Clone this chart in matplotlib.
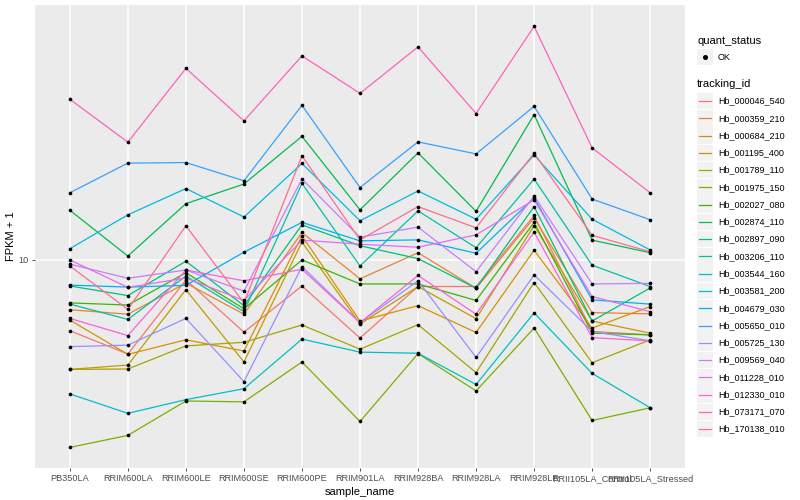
import numpy as np
import matplotlib
matplotlib.use('Agg')
import matplotlib.pyplot as plt
from matplotlib.patches import Rectangle
from matplotlib.lines import Line2D
from matplotlib.ticker import NullLocator

plt.rcParams['font.family'] = ['Liberation Sans', 'DejaVu Sans']

samples = ['PB350LA', 'RRIM600LA', 'RRIM600LE', 'RRIM600SE', 'RRIM600PE', 'RRIM901LA',
           'RRIM928BA', 'RRIM928LA', 'RRIM928LE', 'RRII105LA_Control', 'RRII105LA_Stressed']

tracking_ids = ['Hb_000046_540', 'Hb_000359_210', 'Hb_000684_210', 'Hb_001195_400',
                'Hb_001789_110', 'Hb_001975_150', 'Hb_002027_080', 'Hb_002874_110',
                'Hb_002897_090', 'Hb_003206_110', 'Hb_003544_160', 'Hb_003581_200',
                'Hb_004679_030', 'Hb_005650_010', 'Hb_005725_130', 'Hb_009569_040',
                'Hb_011228_010', 'Hb_012330_010', 'Hb_073171_070', 'Hb_170138_010']

# FPKM + 1 per sample
hb_000046_540 = [7.62, 6.97, 9.26, 7.58, 9.05, 7.41, 9.03, 9.03, 11.86, 7.60, 7.50]
hb_000359_210 = [8.26, 8.12, 9.15, 8.12, 11.11, 9.30, 10.28, 8.97, 11.75, 8.17, 8.13]
hb_000684_210 = [7.94, 6.96, 7.36, 7.05, 10.97, 7.91, 8.39, 7.57, 10.38, 7.70, 8.36]
hb_001195_400 = [6.57, 6.68, 8.92, 6.76, 10.71, 7.82, 9.03, 7.98, 11.41, 7.91, 7.55]
hb_001789_110 = [6.57, 6.58, 7.19, 7.29, 7.79, 7.10, 7.80, 6.49, 9.17, 6.74, 7.36]
hb_001975_150 = [4.87, 5.10, 5.82, 5.80, 6.76, 5.38, 6.98, 6.05, 7.70, 5.40, 5.67]
hb_002027_080 = [8.48, 8.41, 9.52, 8.29, 10.00, 9.12, 9.12, 8.56, 11.55, 7.55, 7.50]
hb_002874_110 = [12.10, 10.15, 12.41, 13.38, 16.07, 12.12, 15.08, 12.05, 17.46, 10.79, 10.28]
hb_002897_090 = [9.05, 8.72, 9.95, 8.39, 11.44, 10.56, 10.05, 8.97, 12.27, 7.91, 8.98]
hb_003206_110 = [8.44, 7.96, 9.40, 8.20, 13.41, 9.77, 12.07, 10.48, 13.64, 9.80, 9.03]
hb_003544_160 = [5.98, 5.55, 5.85, 6.10, 7.38, 7.02, 6.99, 6.20, 8.16, 6.47, 5.67]
hb_003581_200 = [10.44, 11.89, 13.15, 11.79, 14.48, 11.62, 13.03, 11.69, 14.96, 11.69, 10.39]
hb_004679_030 = [9.08, 9.01, 9.07, 10.30, 11.55, 10.76, 10.80, 10.26, 12.69, 8.58, 8.44]
hb_005650_010 = [12.94, 14.50, 14.53, 13.55, 18.10, 13.20, 15.73, 15.02, 18.03, 12.63, 11.67]
hb_005725_130 = [7.17, 7.21, 7.99, 6.27, 9.75, 7.86, 9.23, 6.88, 9.44, 7.60, 7.33]
hb_009569_040 = [9.84, 9.32, 9.62, 8.87, 13.64, 10.91, 11.34, 9.56, 12.78, 9.12, 9.14]
hb_011228_010 = [10.00, 9.00, 9.33, 8.56, 10.79, 10.62, 10.50, 11.01, 12.59, 8.69, 8.20]
hb_012330_010 = [7.99, 7.48, 9.62, 9.23, 9.65, 7.86, 9.42, 8.12, 11.13, 7.42, 7.33]
hb_073171_070 = [18.53, 15.71, 20.86, 17.05, 21.88, 18.95, 22.65, 17.54, 24.50, 15.37, 12.94]
hb_170138_010 = [9.77, 8.27, 11.40, 8.48, 14.91, 10.80, 12.27, 11.31, 15.06, 10.99, 10.32]

fpkm = [hb_000046_540, hb_000359_210, hb_000684_210, hb_001195_400, hb_001789_110,
        hb_001975_150, hb_002027_080, hb_002874_110, hb_002897_090, hb_003206_110,
        hb_003544_160, hb_003581_200, hb_004679_030, hb_005650_010, hb_005725_130,
        hb_009569_040, hb_011228_010, hb_012330_010, hb_073171_070, hb_170138_010]

# ggplot default hue palette for 20 levels
colours = ['#F8766D', '#EA8331', '#D89000', '#C09B00', '#A3A500', '#7CAE00', '#39B600',
           '#00BB4E', '#00BF7D', '#00C1A3', '#00BFC4', '#00BAE0', '#00B0F6', '#35A2FF',
           '#9590FF', '#C77CFF', '#E76BF3', '#FA62DB', '#FF62BC', '#FF6C91']

W, H = 800, 500
fig = plt.figure(figsize=(8, 5), dpi=100)
ax = fig.add_axes([35 / W, 32 / H, 650 / W, 463 / H])
ax.set_facecolor('#EBEBEB')

x = np.arange(len(samples))
for vals, col in zip(fpkm, colours):
    ax.plot(x, vals, color=col, lw=0.9, zorder=2)
for vals in fpkm:
    ax.scatter(x, vals, s=7, color='black', zorder=3, linewidths=0)

ax.set_yscale('log')
ax.set_ylim(4.5, 26.6)
ax.set_xlim(-0.6, 10.6)
ax.set_yticks([10])
ax.set_yticklabels(['10'])
ax.yaxis.set_minor_locator(NullLocator())
ax.set_xticks(x)
ax.set_xticklabels(samples)
ax.grid(color='white', lw=1.1)
ax.set_axisbelow(True)
for sp in ax.spines.values():
    sp.set_visible(False)
ax.tick_params(length=2.5, width=0.6, color='#333333', labelsize=6.6, labelcolor='#4D4D4D', pad=2)
ax.set_xlabel('sample_name', fontsize=8, labelpad=3)
ax.set_ylabel('FPKM + 1', fontsize=8, labelpad=1.5)

# legends, drawn by hand in pixel coordinates
def fx(px):
    return px / W

def fy(py):
    return 1 - py / H

fig.text(fx(697), fy(41), 'quant_status', fontsize=8, va='center')
fig.patches.append(Rectangle((fx(697), fy(65)), 16 / W, 16 / H, transform=fig.transFigure,
                             facecolor='#F2F2F2', edgecolor='none'))
fig.lines.append(Line2D([fx(705)], [fy(57)], marker='o', markersize=2.6, color='black',
                        transform=fig.transFigure))
fig.text(fx(718), fy(57), 'OK', fontsize=6.5, va='center')

fig.text(fx(697), fy(84), 'tracking_id', fontsize=8, va='center')
step = 17.27
for i, (tid, col) in enumerate(zip(tracking_ids, colours)):
    yc = 101 + i * step
    fig.patches.append(Rectangle((fx(697), fy(yc + 8.3)), 16 / W, 16.6 / H,
                                 transform=fig.transFigure, facecolor='#F2F2F2', edgecolor='none'))
    fig.lines.append(Line2D([fx(699), fx(711)], [fy(yc), fy(yc)], color=col, lw=0.9,
                            transform=fig.transFigure))
    fig.text(fx(718), fy(yc), tid, fontsize=6.5, va='center')

fig.savefig('out.png', dpi=100)
